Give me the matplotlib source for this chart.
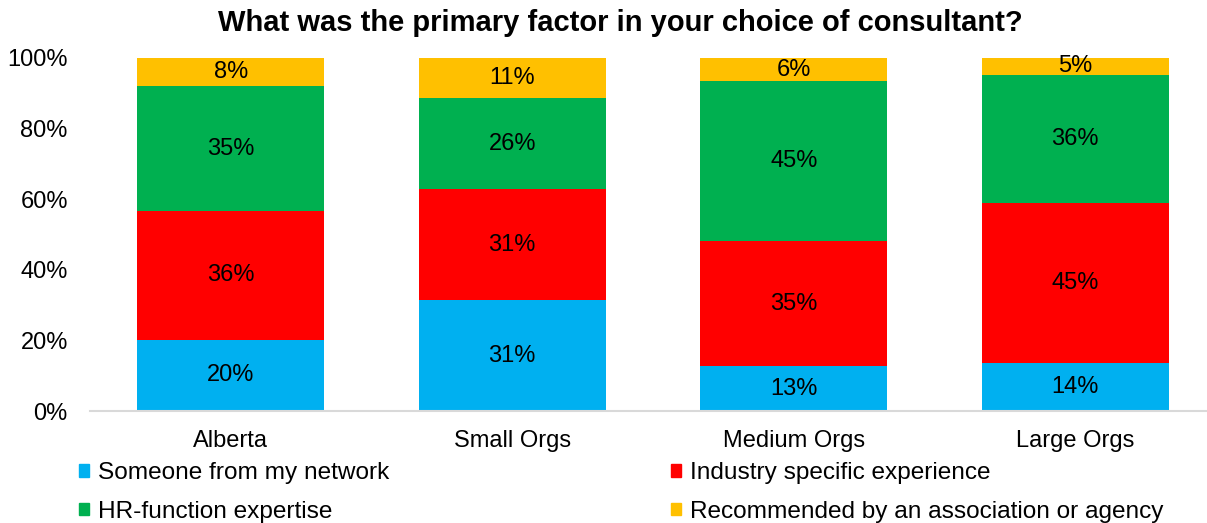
import matplotlib
matplotlib.use("Agg")
import matplotlib.pyplot as plt
from matplotlib.patches import Patch

plt.rcParams["font.family"] = ["Liberation Sans", "DejaVu Sans"]

categories = ["Alberta", "Small Orgs", "Medium Orgs", "Large Orgs"]
series_names = ["Someone from my network", "Industry specific experience",
                "HR-function expertise", "Recommended by an association or agency"]
network = [20.2, 31.4, 12.7, 13.5]
industry = [36.4, 31.4, 35.4, 45.4]
hr_expertise = [35.4, 25.9, 45.4, 36.4]
recommended = [7.9, 11.3, 6.4, 4.7]
colors = ["#00B0F0", "#FF0000", "#00B050", "#FFC000"]

fig = plt.figure(figsize=(12.07, 5.23), dpi=100)
ax = fig.add_axes([90 / 1207, 1 - 411 / 523, 1126 / 1207, 353 / 523])

x = range(len(categories))
bottoms = [0.0] * len(categories)
for vals, col in zip([network, industry, hr_expertise, recommended], colors):
    ax.bar(x, vals, bottom=bottoms, width=0.664, color=col, zorder=2)
    for i, v in enumerate(vals):
        ax.text(i, bottoms[i] + v / 2, f"{v:.0f}%", ha="center", va="center",
                fontsize=17, color="black", zorder=3)
    bottoms = [b + v for b, v in zip(bottoms, vals)]

ax.set_xlim(-0.5, 3.5)
ax.set_ylim(0, 100)
ax.set_yticks(range(0, 101, 20))
ax.set_yticklabels([f"{t}%" for t in range(0, 101, 20)])
ax.set_xticks(list(x))
ax.set_xticklabels(categories)
ax.tick_params(axis="both", length=0, labelsize=17)
ax.tick_params(axis="y", pad=16)
ax.tick_params(axis="x", pad=14)
for side in ("left", "right", "top"):
    ax.spines[side].set_visible(False)
ax.spines["bottom"].set_color("#D9D9D9")
ax.spines["bottom"].set_linewidth(1.5)

fig.text(620 / 1207, 1 - 23 / 523, "What was the primary factor in your choice of consultant?",
         ha="center", va="center", fontsize=21, fontweight="bold")

handles = [Patch(color=colors[0]), Patch(color=colors[2]),
           Patch(color=colors[1]), Patch(color=colors[3])]
labels = [series_names[0], series_names[2], series_names[1], series_names[3]]
fig.legend(handles, labels, ncol=2, loc="upper left",
           bbox_to_anchor=(79 / 1207, 1 - 462 / 523), frameon=False,
           fontsize=17.6, handlelength=0.41, handleheight=0.41, handletextpad=0.38,
           columnspacing=11.5, labelspacing=0.68, borderaxespad=0, borderpad=0)

fig.savefig("out.png", dpi=100)
